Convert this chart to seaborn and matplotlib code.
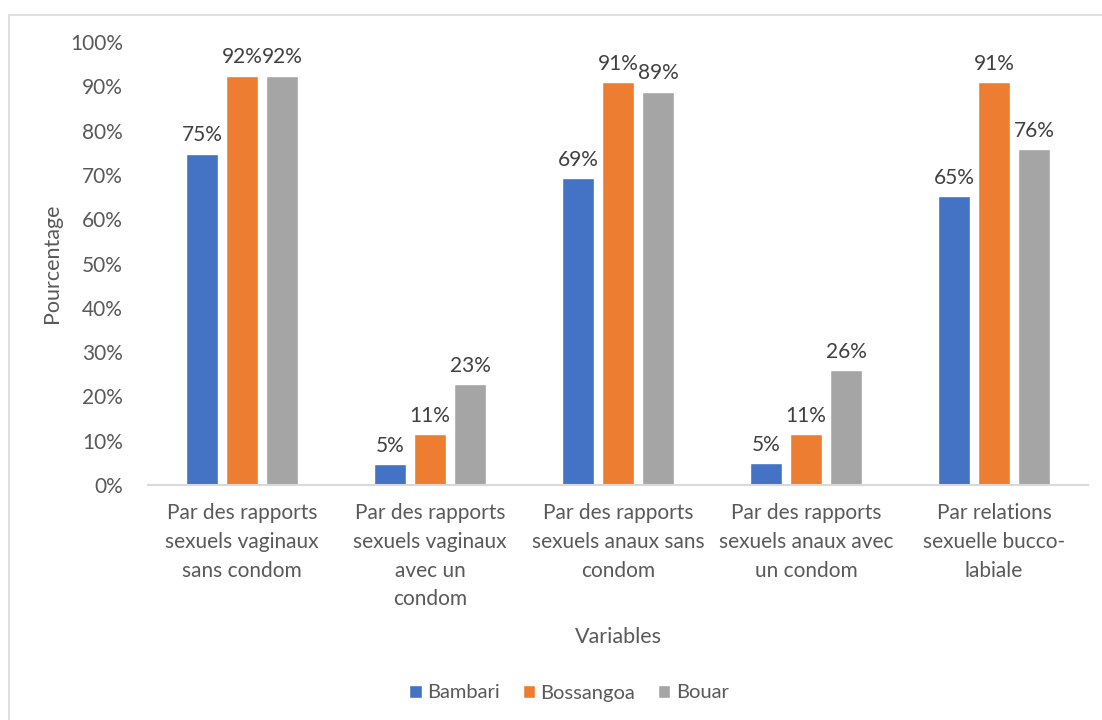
import matplotlib
matplotlib.use("Agg")
import matplotlib.pyplot as plt
from matplotlib.patches import Rectangle
from matplotlib.ticker import PercentFormatter
import seaborn as sns
import pandas as pd

categories = [
    "Par des rapports\nsexuels vaginaux\nsans condom",
    "Par des rapports\nsexuels vaginaux\navec un\ncondom",
    "Par des rapports\nsexuels anaux sans\ncondom",
    "Par des rapports\nsexuels anaux avec\nun condom",
    "Par relations\nsexuelle bucco-\nlabiale",
]
series_names = ["Bambari", "Bossangoa", "Bouar"]
bambari = [0.748, 0.047, 0.692, 0.049, 0.652]
bossangoa = [0.924, 0.114, 0.909, 0.114, 0.909]
bouar = [0.924, 0.228, 0.888, 0.259, 0.758]
colors = ["#4472C4", "#ED7D31", "#A5A5A5"]

rows = []
for name, vals in zip(series_names, [bambari, bossangoa, bouar]):
    for c, v in zip(categories, vals):
        rows.append({"Variables": c, "Ville": name, "Pourcentage": v})
df = pd.DataFrame(rows)

sns.set_theme(style="white")
plt.rcParams["font.family"] = ["Lato", "DejaVu Sans"]

fig = plt.figure(figsize=(11.02, 7.2), dpi=100)
ax = fig.add_axes([148 / 1102, 1 - 485 / 720, 940 / 1102, 443 / 720])

sns.barplot(data=df, x="Variables", y="Pourcentage", hue="Ville",
            order=categories, hue_order=series_names, palette=colors,
            width=0.64, gap=0.2, ax=ax, legend=True, saturation=1)

for cont in ax.containers:
    ax.bar_label(cont, labels=[f"{b.get_height():.0%}" for b in cont],
                 padding=6, fontsize=15, color="#404040")

ax.set_ylim(0, 1.0)
ax.set_xlim(-0.5, 4.5)
ax.set_yticks([i / 10 for i in range(11)])
ax.yaxis.set_major_formatter(PercentFormatter(1.0, decimals=0))
ax.tick_params(axis="y", labelsize=15, colors="#595959", length=0, pad=18)
ax.set_xticks(range(len(categories)))
ax.set_xticklabels(categories, linespacing=1.55, fontsize=15,
                   color="#595959", va="top")
ax.tick_params(axis="x", length=0, pad=13)

for s in ["top", "right", "left"]:
    ax.spines[s].set_visible(False)
ax.spines["bottom"].set_color("#D9D9D9")
ax.spines["bottom"].set_linewidth(1.5)
ax.grid(False)

ax.set_ylabel("Pourcentage", fontsize=15.5, color="#595959")
ax.yaxis.set_label_coords(-0.092, 0.5)
ax.set_xlabel("Variables", fontsize=15.5, color="#595959")
ax.xaxis.set_label_coords(0.5, -0.32)

leg = ax.legend(loc="center", bbox_to_anchor=(569 / 1102, 1 - 693 / 720),
                bbox_transform=fig.transFigure, ncol=3, frameon=False,
                fontsize=14.5, handlelength=0.6, handleheight=0.6,
                handletextpad=0.3, columnspacing=1.1)
for t in leg.get_texts():
    t.set_color("#595959")

fig.patches.append(Rectangle((9 / 1102, -0.1), 1.2, 1.1 - 15 / 720,
                             transform=fig.transFigure, fill=False,
                             edgecolor="#D9D9D9", linewidth=1.2))

fig.savefig("out.png", dpi=100)
